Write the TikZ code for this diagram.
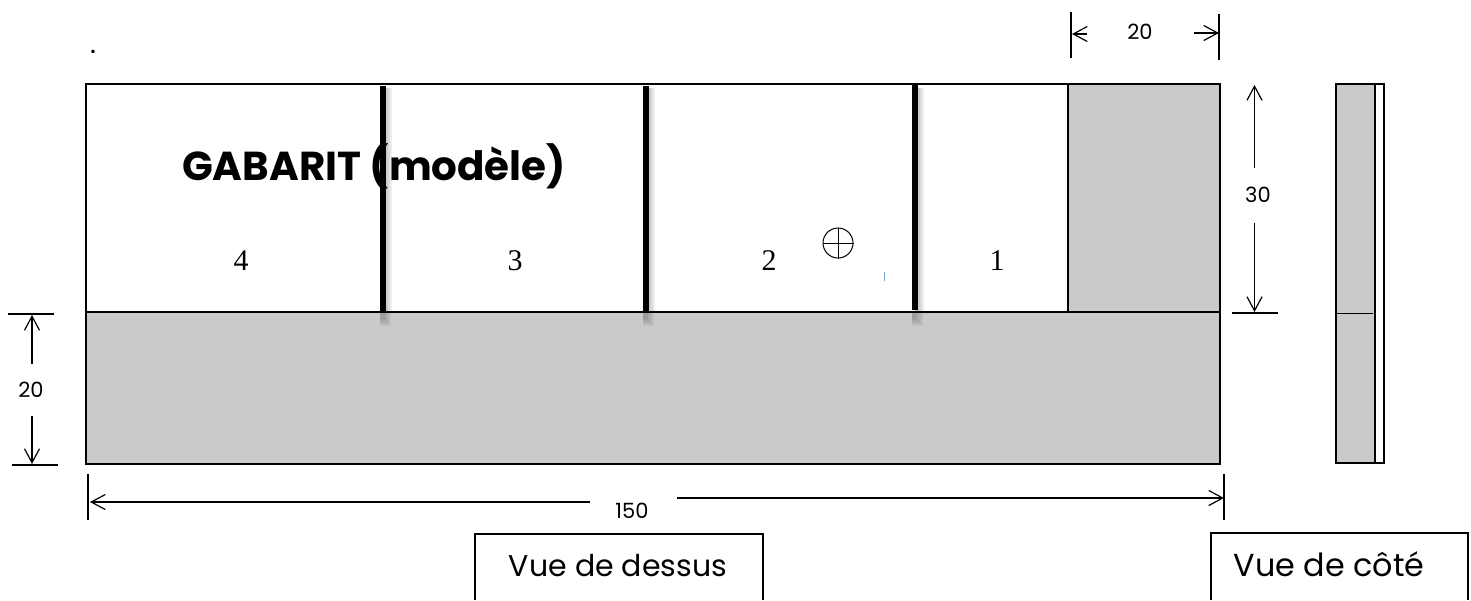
\documentclass[tikz,border=0pt]{standalone}
\usepackage{fontspec}
\setmainfont{Poppins}
\newfontfamily\numfont{Liberation Serif}
\definecolor{mygray}{RGB}{202,202,202}
\definecolor{myblue}{RGB}{120,160,215}
\usetikzlibrary{arrows.meta,positioning,calc}
\begin{document}
\begin{tikzpicture}[
  x=0.5pt,y=-0.5pt,
  wall/.style={draw=black,line width=1.3pt},
  thinwall/.style={draw=black,line width=0.6pt},
  divider/.style={line width=2.6pt,black},
  dimline/.style={line width=0.6pt,black},
  dimarrow/.style={dimline,-{Straight Barb[length=7pt,width=7.5pt,line width=0.6pt]}},
  dimlabel/.style={font=\fontsize{10.5}{12}\selectfont,inner sep=0pt},
  partnum/.style={font=\numfont\fontsize{15}{17}\selectfont,inner sep=0pt}
]
\useasboundingbox (0,0) rectangle (1471,600);

% vue de dessus
\fill[mygray] (86,312) rectangle (1220,464);
\fill[mygray] (1068,84) rectangle (1220,312);

% ombres
\foreach \Posx in {383,646,915}{
  \foreach \Off [count=\Oi from 1] in {3,5,7,9}{
    \fill[black,opacity=0.07] (\Posx,88) rectangle (\Posx+\Off,312);
    \fill[black,opacity=0.06] (\Posx-3,312) rectangle (\Posx+\Off-1,318+2*\Oi);
  }
}

\draw[wall] (86,84) rectangle (1220,464);
\draw[wall] (86,312) -- (1220,312);
\draw[wall] (1068,84) -- (1068,312);

\foreach \Posx/\Ya/\Yb in {383/86/312,646/86/312,915/84/310}
  \draw[divider] (\Posx,\Ya) -- (\Posx,\Yb);

\node[font=\bfseries\fontsize{20.2}{23}\selectfont,inner sep=0pt] (titre) at (374,166) {GABARIT (modèle)};
\node[partnum] (p4) at (241,261) {4};
\node[partnum] (p3) at (515,261) {3};
\node[partnum] (p2) at (769,261) {2};
\node[partnum] (p1) at (997,261) {1};

% repere
\node[draw,circle,line width=0.5pt,minimum size=15pt,inner sep=0pt] (cible) at (838,243) {};
\draw[line width=0.5pt] (cible.north) -- (cible.south);
\draw[line width=0.5pt] (cible.west) -- (cible.east);
\draw[myblue,line width=0.4pt] (884,272) -- (884,281);
\node[inner sep=0pt,font=\fontsize{14}{16}\selectfont] (point) at (93,52) {.};

% vue de cote
\fill[mygray] (1336,84) rectangle (1375,463);
\draw[thinwall] (1336,84) rectangle (1384,463);
\draw[thinwall] (1375,84) -- (1375,463);
\draw[line width=0.4pt] (1336,313) -- (1373,313);

% cote 20 haut
\coordinate (ha) at (1071,12);
\coordinate (hb) at (1071,58);
\coordinate (hc) at (1219,14);
\coordinate (hd) at (1219,60);
\draw[dimline] (ha) -- (hb);
\draw[dimline] (hc) -- (hd);
\node[dimlabel] (cote20h) at (1140,32) {20};
\coordinate (he) at (1087,34);
\coordinate (hf) at (1072,34);
\coordinate (hg) at (1194,33);
\coordinate (hh) at (1219,33);
\draw[dimarrow] (he) -- (hf);
\draw[dimarrow] (hg) -- (hh);

% cote 30
\node[dimlabel] (cote30) at (1258,195) {30};
\coordinate (va) at (1254.5,168);
\coordinate (vb) at (1254.5,85);
\coordinate (vc) at (1254.5,223);
\coordinate (vd) at (1254.5,312);
\coordinate (ve) at (1232,313);
\coordinate (vf) at (1278,313);
\draw[dimarrow] (va) -- (vb);
\draw[dimarrow] (vc) -- (vd);
\draw[dimline] (ve) -- (vf);

% cote 20 gauche
\node[dimlabel] (cote20g) at (31,390) {20};
\coordinate (ga) at (8,314);
\coordinate (gb) at (54,314);
\coordinate (gc) at (32,364);
\coordinate (gd) at (32,315);
\coordinate (ge) at (32,416);
\coordinate (gf) at (32,464);
\coordinate (gg) at (12,465);
\coordinate (gh) at (58,465);
\draw[dimline] (ga) -- (gb);
\draw[dimarrow] (gc) -- (gd);
\draw[dimarrow] (ge) -- (gf);
\draw[dimline] (gg) -- (gh);

% cote 150
\node[dimlabel] (cote150) at (632,511) {150};
\coordinate (la) at (88,474);
\coordinate (lb) at (88,520);
\coordinate (lc) at (590,502);
\coordinate (ld) at (90,502);
\coordinate (le) at (677,498);
\coordinate (lf) at (1224,498);
\coordinate (lg) at (1224,474);
\coordinate (lh) at (1224,520);
\draw[dimline] (la) -- (lb);
\draw[dimarrow] (lc) -- (ld);
\draw[dimarrow] (le) -- (lf);
\draw[dimline] (lg) -- (lh);

% cartouches
\draw[thinwall] (475,600) -- (475,534) -- (763,534) -- (763,600);
\draw[thinwall] (1211,600) -- (1211,533) -- (1468,533) -- (1468,600);
\node[font=\fontsize{15}{17}\selectfont,inner sep=0pt] (vuedessus) at (618,566) {Vue de dessus};
\node[font=\fontsize{15.9}{18}\selectfont,inner sep=0pt] (vuecote) at (1329,564) {Vue de côté};

\end{tikzpicture}
\end{document}
